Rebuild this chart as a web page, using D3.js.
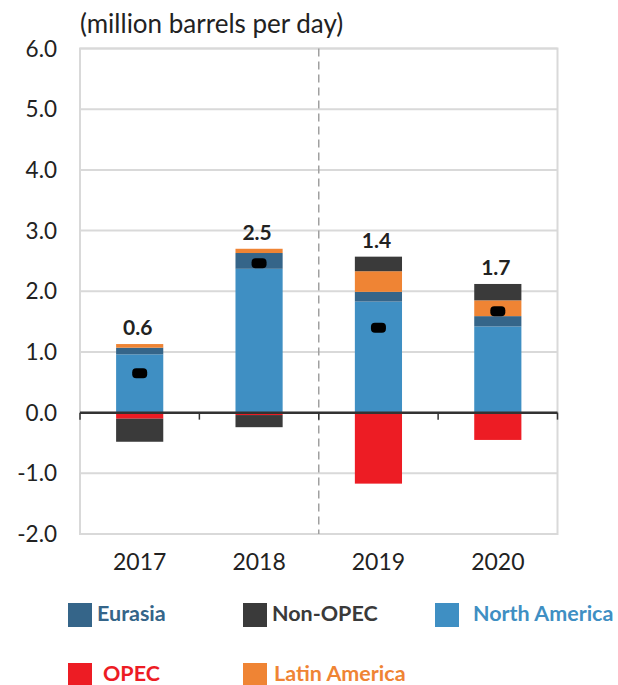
<!DOCTYPE html>
<html>
<head>
<meta charset="utf-8">
<script src="https://cdn.jsdelivr.net/npm/d3@7"></script>
<style>
  body { margin: 0; background: #fff; }
  svg { display: block; font-family: Lato, "Open Sans", sans-serif; }
</style>
</head>
<body>
<div id="chart"></div>
<script>
var years        = ["2017", "2018", "2019", "2020"];
var northAmerica = [0.96, 2.37, 1.83, 1.42];
var eurasia      = [0.11, 0.26, 0.16, 0.17];
var opec         = [-0.10, -0.04, -1.17, -0.45];
var latinAmerica = [0.06, 0.07, 0.34, 0.26];
var nonOpec      = [-0.38, -0.20, 0.24, 0.27];
var totalLabels  = ["0.6", "2.5", "1.4", "1.7"];
var yTicks       = [-2, -1, 0, 1, 2, 3, 4, 5, 6];

var width = 618, height = 685;
// NB: "top" is a reserved window global, so use plot* names
var plotLeft = 80, plotRight = 557.5, plotTop = 48.5, plotBottom = 534;

var series = [
    { key: "North America", values: northAmerica, color: "#3f8fc3" },
    { key: "Eurasia",       values: eurasia,      color: "#356589" },
    { key: "OPEC",          values: opec,         color: "#ed1c24" },
    { key: "Latin America", values: latinAmerica, color: "#ef8434" },
    { key: "Non-OPEC",      values: nonOpec,      color: "#3a3a3a" }
];

var rows = years.map(function(y, i) {
    var r = { year: y, label: totalLabels[i], index: i };
    series.forEach(function(s) { r[s.key] = s.values[i]; });
    r.total = d3.sum(series, function(s) { return s.values[i]; });
    return r;
});

var svg = d3.select("#chart").append("svg")
    .attr("width", width)
    .attr("height", height);

var x = d3.scaleBand().domain(years).range([plotLeft, plotRight]).padding(0);
var barW = x.bandwidth() * 0.395;
var y = d3.scaleLinear().domain([-2, 6]).range([plotBottom, plotTop]);

// grid
svg.append("g").selectAll("line")
    .data(yTicks)
    .enter().append("line")
    .attr("x1", plotLeft).attr("x2", plotRight)
    .attr("y1", function(d) { return y(d); })
    .attr("y2", function(d) { return y(d); })
    .style("stroke", "#d9d9d9")
    .style("stroke-width", 2);

// frame
svg.append("rect")
    .attr("x", plotLeft).attr("y", plotTop)
    .attr("width", plotRight - plotLeft).attr("height", plotBottom - plotTop)
    .style("fill", "none")
    .style("stroke", "#d9d9d9")
    .style("stroke-width", 2);

// forecast divider
svg.append("line")
    .attr("x1", x("2019")).attr("x2", x("2019"))
    .attr("y1", plotTop).attr("y2", plotBottom)
    .style("stroke", "#a0a0a0")
    .style("stroke-width", 1.5)
    .style("stroke-dasharray", "8,5");

// y labels (plain hyphen for negatives, like the source)
svg.append("g").selectAll("text")
    .data(yTicks)
    .enter().append("text")
    .attr("x", 57)
    .attr("y", function(d) { return y(d); })
    .attr("dy", "0.36em")
    .attr("text-anchor", "end")
    .style("font-size", "22.5px")
    .style("fill", "#222")
    .text(function(d) { return d.toFixed(1); });

svg.append("text")
    .attr("x", 80).attr("y", 33)
    .style("font-size", "26px")
    .style("fill", "#222")
    .text("(million barrels per day)");

// stacked bars
var stack = d3.stack()
    .keys(series.map(function(s) { return s.key; }))
    .offset(d3.stackOffsetDiverging);

var layers = stack(rows);

svg.append("g").selectAll("g")
    .data(layers)
    .enter().append("g")
    .style("fill", function(d, i) { return series[i].color; })
    .selectAll("rect")
    .data(function(d) { return d; })
    .enter().append("rect")
    .attr("x", function(d) { return x(d.data.year) + (x.bandwidth() - barW) / 2; })
    .attr("width", barW)
    .attr("y", function(d) { return y(Math.max(d[0], d[1])); })
    .attr("height", function(d) { return Math.abs(y(d[0]) - y(d[1])); });

// zero axis with ticks between categories
var bounds = years.map(function(d) { return x(d); }).concat([plotRight]);
svg.append("line")
    .attr("x1", plotLeft).attr("x2", plotRight)
    .attr("y1", y(0)).attr("y2", y(0))
    .style("stroke", "#333")
    .style("stroke-width", 2.5);
svg.append("g").selectAll("line")
    .data(bounds)
    .enter().append("line")
    .attr("x1", function(d) { return d; })
    .attr("x2", function(d) { return d; })
    .attr("y1", y(0)).attr("y2", y(0) + 7)
    .style("stroke", "#333")
    .style("stroke-width", 1.5);

// net total markers
svg.append("g").selectAll("rect")
    .data(rows)
    .enter().append("rect")
    .attr("x", function(d) { return x(d.year) + x.bandwidth() / 2 - 7.5; })
    .attr("y", function(d) { return y(d.total) - 5; })
    .attr("width", 15).attr("height", 10)
    .attr("rx", 4)
    .style("fill", "#000");

// total labels above bar tops
svg.append("g").selectAll("text")
    .data(rows)
    .enter().append("text")
    .attr("x", function(d) { return x(d.year) + x.bandwidth() / 2 - 2; })
    .attr("y", function(d) {
        var topVal = d3.max(layers, function(l) { return l[d.index][1]; });
        return y(topVal) - 9;
    })
    .attr("text-anchor", "middle")
    .style("font-size", "21px")
    .style("font-weight", "bold")
    .style("fill", "#222")
    .text(function(d) { return d.label; });

// x labels
svg.append("g").selectAll("text")
    .data(years)
    .enter().append("text")
    .attr("x", function(d) { return x(d) + x.bandwidth() / 2; })
    .attr("y", 570)
    .attr("text-anchor", "middle")
    .style("font-size", "23px")
    .style("fill", "#222")
    .text(function(d) { return d; });

// legend
var legendLayout = [
    { key: "Eurasia",       col: 68,  row: 603, gap: 29 },
    { key: "Non-OPEC",      col: 243, row: 603, gap: 29 },
    { key: "North America", col: 435, row: 603, gap: 38 },
    { key: "OPEC",          col: 68,  row: 663, gap: 35 },
    { key: "Latin America", col: 243, row: 663, gap: 31 }
];

function colorOf(key) {
    return series.filter(function(s) { return s.key === key; })[0].color;
}

var legend = svg.append("g").selectAll("g")
    .data(legendLayout)
    .enter().append("g")
    .attr("transform", function(d) { return "translate(" + d.col + "," + d.row + ")"; });

legend.append("rect")
    .attr("width", 24).attr("height", 24)
    .style("fill", function(d) { return colorOf(d.key); });

legend.append("text")
    .attr("x", function(d) { return d.gap; })
    .attr("y", 17.5)
    .style("font-size", "21.5px")
    .style("font-weight", "bold")
    .style("fill", function(d) { return colorOf(d.key); })
    .text(function(d) { return d.key; });
</script>
</body>
</html>
